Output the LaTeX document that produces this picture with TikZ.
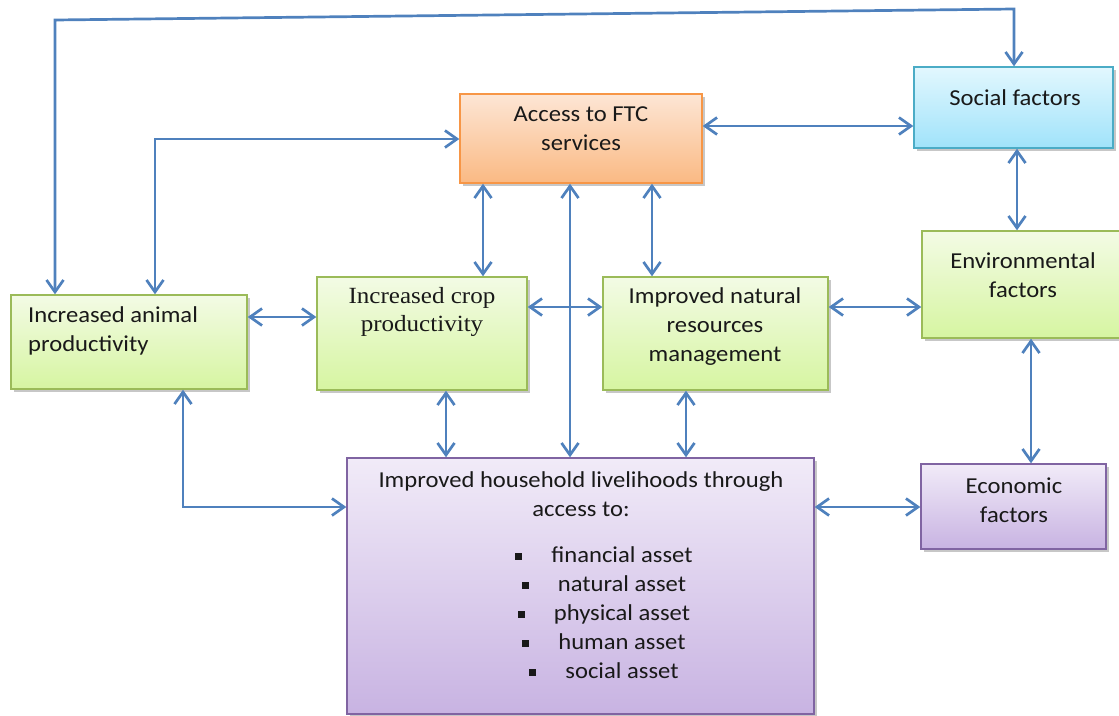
\documentclass[tikz,border=0pt]{standalone}
\usepackage{fontspec}
\setmainfont{Carlito}[FakeStretch=1.08]
\newfontfamily\cropfont{Liberation Serif}[FakeStretch=1.08]
\usetikzlibrary{arrows.meta,shadows}

\definecolor{linec}{HTML}{4F81BD}
\definecolor{grnTop}{HTML}{F3FBE5}
\definecolor{grnBot}{HTML}{D6F5A1}
\definecolor{grnLine}{HTML}{9BBB59}
\definecolor{orgTop}{HTML}{FDE6D5}
\definecolor{orgBot}{HTML}{FAB983}
\definecolor{orgLine}{HTML}{F79646}
\definecolor{cyaTop}{HTML}{E2F7FE}
\definecolor{cyaBot}{HTML}{A0E3FA}
\definecolor{cyaLine}{HTML}{4BACC6}
\definecolor{purTop}{HTML}{F1EBF8}
\definecolor{purBot}{HTML}{C8B3E2}
\definecolor{purLine}{HTML}{8064A2}

\tikzset{
  box/.style={rectangle, line width=1.4pt, inner sep=0pt,
    drop shadow={shadow xshift=2.5pt, shadow yshift=-2.5pt, fill=black, opacity=0.22}},
  greenbox/.style={box, draw=grnLine, top color=grnTop, bottom color=grnBot},
  orangebox/.style={box, draw=orgLine, top color=orgTop, bottom color=orgBot},
  cyanbox/.style={box, draw=cyaLine, top color=cyaTop, bottom color=cyaBot},
  purplebox/.style={box, draw=purLine, top color=purTop, bottom color=purBot},
  txt/.style={align=center, inner sep=0pt, font=\fontsize{22.8}{29}\selectfont, text=black!90},
  croptxt/.style={align=center, inner sep=0pt, font=\cropfont\fontsize{23.2}{28}\selectfont, text=black!90},
  conn/.style={draw=linec, line width=2.7pt,
    {Straight Barb[length=12pt,width=17pt]}-{Straight Barb[length=12pt,width=17pt]}},
}
\newcommand{\bulsq}{\raisebox{2.5pt}{\rule{7pt}{7pt}}}

\begin{document}
\begin{tikzpicture}[x=1pt,y=-1pt]
\useasboundingbox (0,0) rectangle (1119,715);

% boxes
\node[orangebox, minimum width=242pt, minimum height=89pt] (ftc) at (581,138.5) {};
\node[cyanbox, minimum width=199pt, minimum height=81pt] (soc) at (1013.5,107.5) {};
\node[greenbox, minimum width=236pt, minimum height=94pt] (ani) at (129,342) {};
\node[greenbox, minimum width=210pt, minimum height=113pt] (crop) at (422,333.5) {};
\node[greenbox, minimum width=225pt, minimum height=113pt] (nrm) at (715.5,333.5) {};
\node[greenbox, minimum width=205pt, minimum height=107pt] (env) at (1024.5,284.5) {};
\node[purplebox, minimum width=467pt, minimum height=256pt] (hh) at (580.5,586) {};
\node[purplebox, minimum width=185pt, minimum height=85pt] (eco) at (1013.5,506.5) {};

% box texts
\node[txt] (ftc-t) at (581,129) {Access to FTC\\services};
\node[txt] (soc-t) at (1015,98) {Social factors};
\node[txt, align=left, anchor=west] (ani-t) at (28,331) {Increased animal\\productivity};
\node[croptxt] (crop-t) at (422,312) {Increased crop\\productivity};
\node[txt] (nrm-t) at (715,327) {Improved natural\\resources\\management};
\node[txt] (env-t) at (1023,275) {Environmental\\factors};
\node[txt] (eco-t) at (1014,500) {Economic\\factors};
\node[txt] (hh-t) at (581,494) {Improved household livelihoods through\\access to:};
\node[txt] (hh-list) at (604,613) {%
  \bulsq\hspace{29pt}financial asset\\
  \bulsq\hspace{29pt}natural asset\\
  \bulsq\hspace{29pt}physical asset\\
  \bulsq\hspace{29pt}human asset\\
  \bulsq\hspace{29pt}social asset};

% routing helpers
\coordinate (topL) at (55,20);
\coordinate (topR) at (1014,9);
\coordinate (loopL) at (155,139);
\coordinate (xFC) at (483,0);
\coordinate (xFH) at (570,0);
\coordinate (xFN) at (652,0);
\coordinate (xCH) at (446,0);
\coordinate (xNH) at (686,0);
\coordinate (xAH) at (183,0);
\coordinate (xSE) at (1017,0);
\coordinate (xEE) at (1031,0);
\coordinate (yFS) at (0,126);
\coordinate (yAC) at (0,317);
\coordinate (yMid) at (0,307);
\coordinate (yHH) at (0,507);

% connectors
\draw[conn] (ani.north -| topL) -- (topL) -- (topR) -- (soc.north -| topR);
\draw[conn] (ftc.west |- loopL) -- (loopL) -- (ani.north -| loopL);
\draw[conn] (ani.east |- yAC) -- (crop.west |- yAC);
\draw[conn] (ftc.south -| xFC) -- (crop.north -| xFC);
\draw[conn] (ftc.east |- yFS) -- (soc.west |- yFS);
\draw[conn] (crop.east |- yMid) -- (nrm.west |- yMid);
\draw[conn] (ftc.south -| xFN) -- (nrm.north -| xFN);
\draw[conn] (ftc.south -| xFH) -- (hh.north -| xFH);
\draw[conn] (nrm.east |- yMid) -- (env.west |- yMid);
\draw[conn] (soc.south -| xSE) -- (env.north -| xSE);
\draw[conn] (env.south -| xEE) -- (eco.north -| xEE);
\draw[conn] (crop.south -| xCH) -- (hh.north -| xCH);
\draw[conn] (nrm.south -| xNH) -- (hh.north -| xNH);
\draw[conn] (ani.south -| xAH) |- (hh.west |- yHH);
\draw[conn] (hh.east |- yHH) -- (eco.west |- yHH);
\end{tikzpicture}
\end{document}
